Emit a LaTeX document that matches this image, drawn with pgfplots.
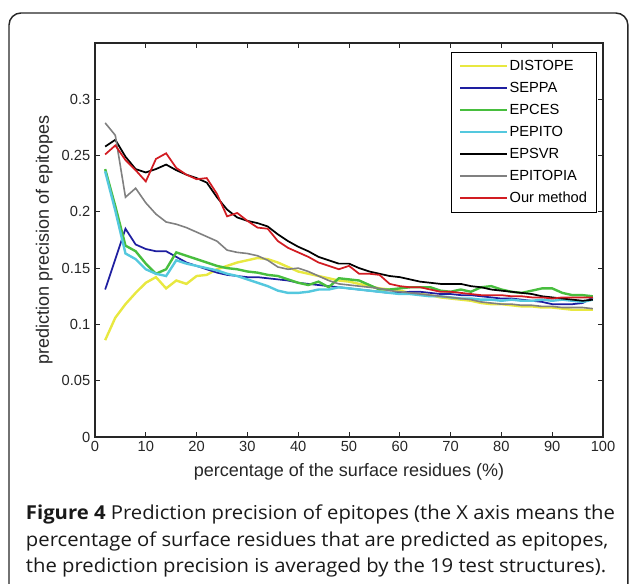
\documentclass[border=0pt]{standalone}
\usepackage{fontspec}
\setmainfont{Liberation Sans}
\newfontfamily\capfont[FakeStretch=1.055]{Open Sans}
\usepackage{pgfplots}
\pgfplotsset{compat=1.18}

\definecolor{cDistope}{RGB}{232,232,64}
\definecolor{cSeppa}{RGB}{30,30,160}
\definecolor{cEpces}{RGB}{72,190,62}
\definecolor{cPepito}{RGB}{84,200,222}
\definecolor{cEpitopia}{RGB}{128,128,128}
\definecolor{cOurs}{RGB}{210,28,34}

\begin{document}
\begin{tikzpicture}
\useasboundingbox (0,0) rectangle (471.75pt,438pt);
\draw[line width=1.1pt, black!85, rounded corners=9pt] (6.75pt,-12pt) rectangle (470.9pt,428.25pt);

\begin{axis}[
    at={(71.25pt,110.25pt)}, anchor=south west,
    scale only axis, width=381pt, height=295.5pt,
    xmin=0, xmax=100, ymin=0, ymax=0.35,
    xtick={0,10,...,100},
    ytick={0,0.05,0.1,0.15,0.2,0.25,0.3},
    yticklabel style={/pgf/number format/fixed, /pgf/number format/precision=2},
    /pgf/number format/assume math mode=true,
    tick label style={font=\fontsize{11}{13}\selectfont, text=black!85},
    label style={font=\fontsize{13.5}{15}\selectfont, text=black!85},
    xlabel={percentage of the surface residues (\%)},
    xlabel style={yshift=-1.5pt},
    ylabel={prediction precision of epitopes},
    major tick length=3.75pt,
    axis line style={line width=0.8pt, black!85},
    every tick/.style={black!85, line width=0.7pt},
    legend cell align=left,
    legend style={at={(0.988,0.977)}, anchor=north east, draw=black,
        font=\fontsize{11}{13}\selectfont, row sep=4.9pt,
        nodes={inner sep=1.2pt},
        inner xsep=6pt, inner ysep=4.5pt},
    legend image code/.code={\draw[#1] (0pt,0pt) -- (35pt,0pt);},
]
\addplot[cDistope, line width=1.8pt] coordinates {
(2,0.086)(4,0.106)(6,0.118)(8,0.128)(10,0.137)(12,0.142)(14,0.132)(16,0.139)(18,0.136)(20,0.143)
(22,0.144)(24,0.149)(26,0.152)(28,0.155)(30,0.157)(32,0.159)(34,0.158)(36,0.155)(38,0.151)(40,0.147)
(42,0.145)(44,0.143)(46,0.141)(48,0.139)(50,0.138)(52,0.136)(54,0.134)(56,0.132)(58,0.131)(60,0.130)
(62,0.128)(64,0.127)(66,0.126)(68,0.124)(70,0.123)(72,0.122)(74,0.121)(76,0.119)(78,0.118)(80,0.118)
(82,0.117)(84,0.116)(86,0.116)(88,0.115)(90,0.115)(92,0.114)(94,0.113)(96,0.113)(98,0.113)};
\addlegendentry{DISTOPE}
\addplot[cSeppa, line width=1.3pt] coordinates {
(2,0.131)(4,0.158)(6,0.185)(8,0.171)(10,0.167)(12,0.165)(14,0.165)(16,0.160)(18,0.155)(20,0.152)
(22,0.149)(24,0.146)(26,0.144)(28,0.143)(30,0.142)(32,0.142)(34,0.141)(36,0.140)(38,0.139)(40,0.137)
(42,0.136)(44,0.135)(46,0.134)(48,0.133)(50,0.132)(52,0.131)(54,0.130)(56,0.129)(58,0.128)(60,0.128)
(62,0.129)(64,0.129)(66,0.128)(68,0.127)(70,0.127)(72,0.126)(74,0.126)(76,0.125)(78,0.124)(80,0.123)
(82,0.123)(84,0.122)(86,0.121)(88,0.120)(90,0.118)(92,0.118)(94,0.118)(96,0.119)(98,0.124)};
\addlegendentry{SEPPA}
\addplot[cEpces, line width=1.8pt] coordinates {
(2,0.238)(4,0.205)(6,0.170)(8,0.165)(10,0.154)(12,0.145)(14,0.149)(16,0.164)(18,0.161)(20,0.158)
(22,0.155)(24,0.152)(26,0.150)(28,0.149)(30,0.147)(32,0.146)(34,0.144)(36,0.143)(38,0.140)(40,0.137)
(42,0.135)(44,0.138)(46,0.133)(48,0.141)(50,0.140)(52,0.139)(54,0.135)(56,0.131)(58,0.131)(60,0.132)
(62,0.133)(64,0.133)(66,0.133)(68,0.130)(70,0.129)(72,0.131)(74,0.129)(76,0.133)(78,0.134)(80,0.131)
(82,0.129)(84,0.128)(86,0.130)(88,0.132)(90,0.132)(92,0.128)(94,0.126)(96,0.126)(98,0.125)};
\addlegendentry{EPCES}
\addplot[cPepito, line width=1.8pt] coordinates {
(2,0.236)(4,0.201)(6,0.163)(8,0.158)(10,0.149)(12,0.145)(14,0.143)(16,0.157)(18,0.154)(20,0.152)
(22,0.150)(24,0.148)(26,0.145)(28,0.143)(30,0.140)(32,0.137)(34,0.134)(36,0.130)(38,0.128)(40,0.128)
(42,0.129)(44,0.131)(46,0.131)(48,0.133)(50,0.132)(52,0.131)(54,0.130)(56,0.129)(58,0.128)(60,0.127)
(62,0.127)(64,0.126)(66,0.125)(68,0.125)(70,0.124)(72,0.123)(74,0.123)(76,0.122)(78,0.122)(80,0.121)
(82,0.122)(84,0.121)(86,0.121)(88,0.122)(90,0.121)(92,0.122)(94,0.121)(96,0.120)(98,0.122)};
\addlegendentry{PEPITO}
\addplot[black, line width=1.3pt] coordinates {
(2,0.258)(4,0.264)(6,0.249)(8,0.238)(10,0.235)(12,0.238)(14,0.242)(16,0.237)(18,0.233)(20,0.230)
(22,0.226)(24,0.213)(26,0.202)(28,0.195)(30,0.192)(32,0.190)(34,0.187)(36,0.180)(38,0.174)(40,0.169)
(42,0.165)(44,0.160)(46,0.157)(48,0.154)(50,0.154)(52,0.150)(54,0.147)(56,0.145)(58,0.143)(60,0.142)
(62,0.140)(64,0.138)(66,0.137)(68,0.136)(70,0.136)(72,0.136)(74,0.134)(76,0.133)(78,0.131)(80,0.130)
(82,0.129)(84,0.128)(86,0.127)(88,0.125)(90,0.124)(92,0.123)(94,0.122)(96,0.121)(98,0.122)};
\addlegendentry{EPSVR}
\addplot[cEpitopia, line width=1.2pt] coordinates {
(2,0.279)(4,0.268)(6,0.213)(8,0.221)(10,0.208)(12,0.198)(14,0.191)(16,0.189)(18,0.186)(20,0.182)
(22,0.178)(24,0.174)(26,0.166)(28,0.164)(30,0.163)(32,0.161)(34,0.157)(36,0.151)(38,0.149)(40,0.150)
(42,0.147)(44,0.143)(46,0.139)(48,0.136)(50,0.135)(52,0.134)(54,0.133)(56,0.132)(58,0.130)(60,0.129)
(62,0.128)(64,0.127)(66,0.126)(68,0.125)(70,0.124)(72,0.123)(74,0.122)(76,0.120)(78,0.119)(80,0.118)
(82,0.118)(84,0.117)(86,0.117)(88,0.116)(90,0.116)(92,0.115)(94,0.115)(96,0.115)(98,0.114)};
\addlegendentry{EPITOPIA}
\addplot[cOurs, line width=1.3pt] coordinates {
(2,0.251)(4,0.259)(6,0.246)(8,0.237)(10,0.227)(12,0.247)(14,0.252)(16,0.239)(18,0.233)(20,0.229)
(22,0.230)(24,0.216)(26,0.196)(28,0.199)(30,0.192)(32,0.186)(34,0.185)(36,0.174)(38,0.168)(40,0.164)
(42,0.160)(44,0.155)(46,0.152)(48,0.149)(50,0.152)(52,0.145)(54,0.145)(56,0.144)(58,0.136)(60,0.134)
(62,0.133)(64,0.133)(66,0.131)(68,0.129)(70,0.129)(72,0.128)(74,0.127)(76,0.126)(78,0.126)(80,0.126)
(82,0.125)(84,0.125)(86,0.124)(88,0.124)(90,0.123)(92,0.124)(94,0.124)(96,0.124)(98,0.124)};
\addlegendentry{Our method}
\end{axis}

\begin{scope}[every node/.style={anchor=base west, inner sep=0pt, text=black!90, font=\capfont\fontsize{14.4}{16}\selectfont}]
\node at (19.3pt,48pt) {\textbf{Figure 4} Prediction precision of epitopes (the X axis means the};
\node at (19.3pt,28pt) {percentage of surface residues that are predicted as epitopes,};
\node at (19.3pt,8.5pt) {the prediction precision is averaged by the 19 test structures).};
\end{scope}
\end{tikzpicture}
\end{document}
